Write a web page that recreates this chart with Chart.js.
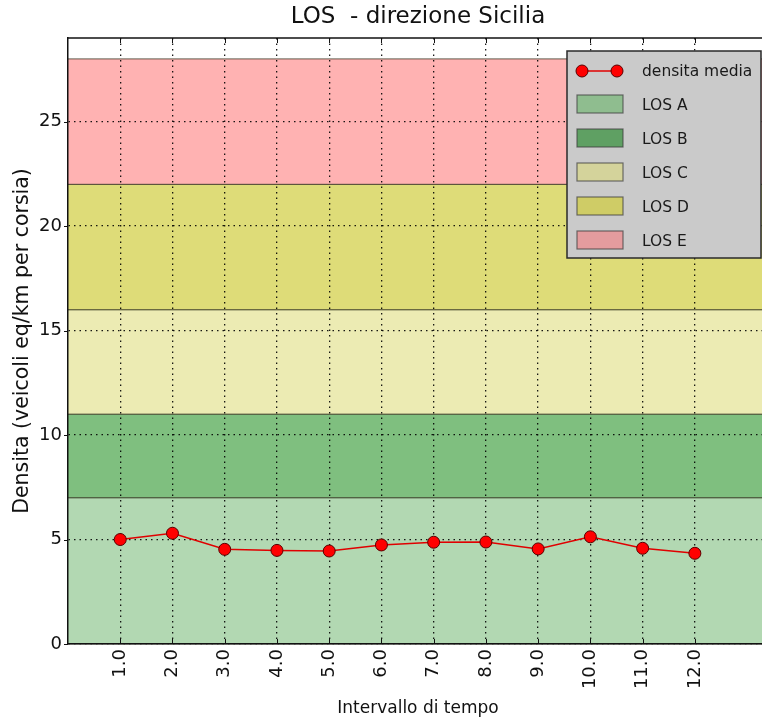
<!DOCTYPE html>
<html>
<head>
<meta charset="utf-8">
<title>LOS - direzione Sicilia</title>
<script src="https://cdn.jsdelivr.net/npm/chart.js@4.4.1/dist/chart.umd.min.js"></script>
<style>
  body { margin: 0; background: #fff; overflow: hidden; width: 762px; height: 725px; }
  canvas { display: block; }
</style>
</head>
<body>
<canvas id="losChart" width="775" height="725"></canvas>
<script>
// data
const intervals = [1, 2, 3, 4, 5, 6, 7, 8, 9, 10, 11, 12];
const densitaMedia = [5.0, 5.3, 4.53, 4.48, 4.45, 4.74, 4.87, 4.88, 4.55, 5.13, 4.58, 4.34];

const xTicks = [1, 2, 3, 4, 5, 6, 7, 8, 9, 10, 11, 12];
const yTicks = [0, 5, 10, 15, 20, 25];

// level of service bands (veicoli eq/km per corsia)
const losNames = ['LOS A', 'LOS B', 'LOS C', 'LOS D', 'LOS E'];
const losLow = [0, 7, 11, 16, 22];
const losHigh = [7, 11, 16, 22, 28];
const losColors = ['#b2d8b2', '#7fbf7f', '#ecebb3', '#dedc78', '#ffb2b2'];
const losLegendColors = ['#8fbd8f', '#5fa063', '#d4d39b', '#cfcc66', '#e49c9e'];

const FONT = 'DejaVu Sans';

// 1. LOS bands behind the grid
const bandsPlugin = {
    id: 'losBands',
    beforeDraw(chart) {
        const { ctx, chartArea: a, scales: { y } } = chart;
        ctx.save();
        losNames.forEach((name, i) => {
            const top = y.getPixelForValue(losHigh[i]);
            const bot = y.getPixelForValue(losLow[i]);
            ctx.fillStyle = losColors[i];
            ctx.fillRect(a.left, top, a.right - a.left, bot - top);
            ctx.strokeStyle = 'rgba(50,50,30,0.6)';
            ctx.lineWidth = 1.2;
            ctx.beginPath();
            ctx.moveTo(a.left, top); ctx.lineTo(a.right, top);
            ctx.moveTo(a.left, bot); ctx.lineTo(a.right, bot);
            ctx.stroke();
        });
        ctx.restore();
    }
};

// 2. frame, tick marks and legend on top
const overlayPlugin = {
    id: 'overlay',
    afterDraw(chart) {
        const { ctx, chartArea: a, scales: { x, y } } = chart;
        ctx.save();
        ctx.strokeStyle = '#111';
        ctx.lineWidth = 1.5;
        ctx.beginPath();
        ctx.moveTo(a.left, a.top); ctx.lineTo(a.right, a.top);
        ctx.stroke();

        ctx.lineWidth = 1;
        ctx.beginPath();
        xTicks.forEach(v => {
            const px = Math.round(x.getPixelForValue(v)) + 0.5;
            ctx.moveTo(px, a.top); ctx.lineTo(px, a.top + 5);
            ctx.moveTo(px, a.bottom); ctx.lineTo(px, a.bottom - 5);
        });
        yTicks.forEach(v => {
            const py = Math.round(y.getPixelForValue(v)) + 0.5;
            ctx.moveTo(a.left - 4, py); ctx.lineTo(a.left, py);
        });
        ctx.stroke();

        // legend box
        const bx = 567, by = a.top + 13, bw = 194, bh = 207;
        ctx.fillStyle = '#cacaca';
        ctx.fillRect(bx, by, bw, bh);
        ctx.strokeStyle = '#2a2a2a';
        ctx.lineWidth = 1.5;
        ctx.strokeRect(bx, by, bw, bh);

        ctx.font = '15.5px "' + FONT + '"';
        ctx.textBaseline = 'middle';
        ctx.fillStyle = '#1a1a1a';

        // line entry
        const ly = by + 20;
        ctx.strokeStyle = '#e00000';
        ctx.lineWidth = 1.5;
        ctx.beginPath();
        ctx.moveTo(582, ly); ctx.lineTo(617, ly);
        ctx.stroke();
        [582, 617].forEach(cx => {
            ctx.beginPath();
            ctx.arc(cx, ly, 6, 0, Math.PI * 2);
            ctx.fillStyle = '#ff0000';
            ctx.fill();
            ctx.strokeStyle = '#5a0000';
            ctx.lineWidth = 1;
            ctx.stroke();
        });
        ctx.fillStyle = '#1a1a1a';
        ctx.fillText('densita media', 642, ly + 1);

        losNames.forEach((name, i) => {
            const cy = by + 53 + i * 34;
            ctx.fillStyle = losLegendColors[i];
            ctx.fillRect(577, cy - 9, 46, 18);
            ctx.strokeStyle = 'rgba(60,60,60,0.7)';
            ctx.lineWidth = 1.2;
            ctx.strokeRect(577, cy - 9, 46, 18);
            ctx.fillStyle = '#1a1a1a';
            ctx.fillText(name, 642, cy + 2);
        });
        ctx.restore();
    }
};

new Chart(document.getElementById('losChart'), {
    type: 'line',
    data: {
        datasets: [{
            label: 'densita media',
            data: intervals.map((v, i) => ({ x: v, y: densitaMedia[i] })),
            borderColor: '#e00000',
            borderWidth: 1.5,
            pointRadius: 6,
            pointBackgroundColor: '#ff0000',
            pointBorderColor: '#5a0000',
            pointBorderWidth: 1,
            tension: 0
        }]
    },
    options: {
        responsive: false,
        animation: false,
        devicePixelRatio: 1,
        layout: { padding: 0 },
        plugins: {
            legend: { display: false },
            tooltip: { enabled: false },
            title: {
                display: true,
                text: 'LOS  - direzione Sicilia',
                fullSize: false,
                color: '#111',
                font: { family: FONT, size: 23, weight: 'normal' },
                padding: { top: 3, bottom: 7.4 }
            }
        },
        scales: {
            x: {
                type: 'linear',
                min: 0,
                max: 13.4,
                afterBuildTicks: s => { s.ticks = xTicks.map(v => ({ value: v })); },
                afterFit: s => { s.height = 81; },
                ticks: {
                    autoSkip: false,
                    minRotation: 90,
                    maxRotation: 90,
                    padding: 5,
                    color: '#111',
                    font: { family: FONT, size: 18 },
                    callback: v => Number(v).toFixed(1)
                },
                grid: { color: 'rgba(0,0,0,0.9)', lineWidth: 1.3, drawTicks: false },
                border: { display: true, color: '#111', width: 1.5, dash: [1.5, 4] },
                title: {
                    display: true,
                    text: 'Intervallo di tempo',
                    color: '#111',
                    font: { family: FONT, size: 17 },
                    padding: { top: 0, bottom: 6 }
                }
            },
            y: {
                type: 'linear',
                min: 0,
                max: 29,
                afterBuildTicks: s => { s.ticks = yTicks.map(v => ({ value: v })); },
                afterFit: s => { s.width = 68; },
                ticks: {
                    padding: 6,
                    color: '#111',
                    font: { family: FONT, size: 18 }
                },
                grid: { color: 'rgba(0,0,0,0.9)', lineWidth: 1.3, drawTicks: false },
                border: { display: true, color: '#111', width: 1.5, dash: [1.5, 4] },
                title: {
                    display: true,
                    text: 'Densita (veicoli eq/km per corsia)',
                    color: '#111',
                    font: { family: FONT, size: 20.5 },
                    padding: { top: 10, bottom: 0 }
                }
            }
        }
    },
    plugins: [bandsPlugin, overlayPlugin]
});
</script>
</body>
</html>
